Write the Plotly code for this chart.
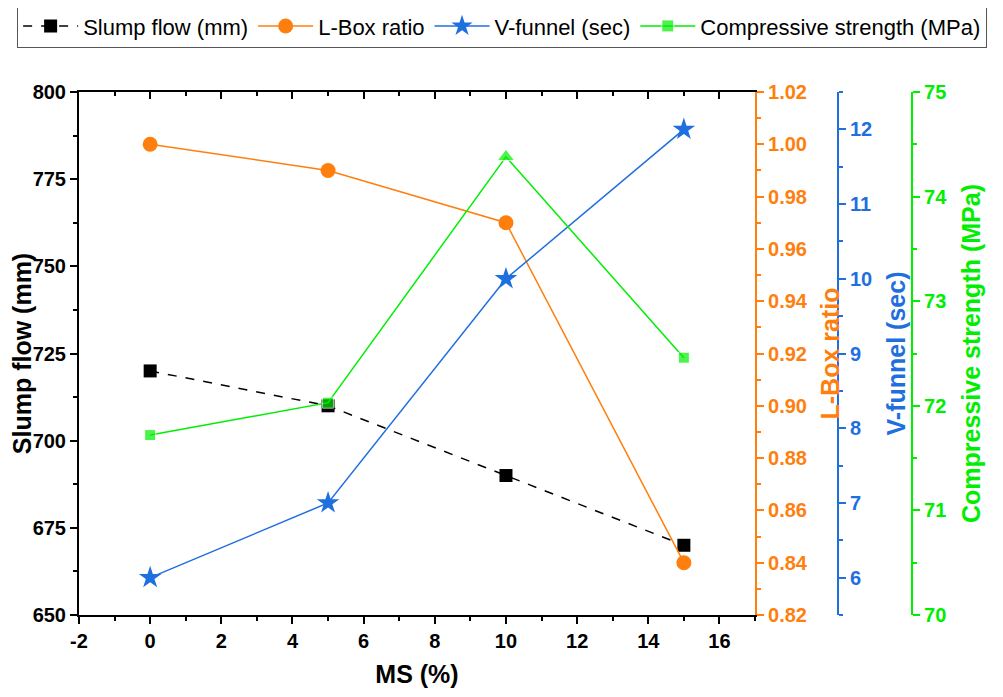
import plotly.graph_objects as go

ms = [0, 5, 10, 15]
slump = [720, 710, 690, 670]
lbox = [1.00, 0.99, 0.97, 0.84]
vfunnel = [6.0, 7.0, 10.0, 12.0]
comp = [71.72, 72.03, 74.38, 72.46]
comp_symbols = ["square", "square", "triangle-up", "square"]
x_tickvals = [-2, 0, 2, 4, 6, 8, 10, 12, 14, 16]
x_ticktext = ["-2", "0", "2", "4", "6", "8", "10", "12", "14", "16"]

BLACK = "#000000"
ORANGE = "#FF7F0E"
BLUE = "#1F6FDF"
GREEN = "#00EE00"
FONT = "Liberation Sans"

fig = go.Figure()
fig.add_trace(go.Scatter(x=ms, y=slump, name="Slump flow (mm)", mode="lines+markers",
                         line=dict(color=BLACK, width=1.5, dash="dash"),
                         marker=dict(symbol="square", size=13, color=BLACK), yaxis="y"))
fig.add_trace(go.Scatter(x=ms, y=lbox, name="L-Box ratio", mode="lines+markers",
                         line=dict(color=ORANGE, width=1.5),
                         marker=dict(symbol="circle", size=15, color=ORANGE), yaxis="y2"))
fig.add_trace(go.Scatter(x=ms, y=vfunnel, name="V-funnel (sec)", mode="lines+markers",
                         line=dict(color=BLUE, width=1.5),
                         marker=dict(symbol="star", size=17, color=BLUE), yaxis="y3"))
fig.add_trace(go.Scatter(x=ms, y=comp, name="Compressive strength (MPa)", mode="lines+markers",
                         line=dict(color=GREEN, width=1.5),
                         marker=dict(symbol=comp_symbols, size=[11, 11, 15, 11], color=GREEN), yaxis="y4"))
# invisible trace to activate the mirrored top axis
fig.add_trace(go.Scatter(x=[ms[0]], y=[slump[0]], xaxis="x2", yaxis="y", mode="markers",
                         marker=dict(opacity=0), showlegend=False, hoverinfo="skip"))

D = 0.7277
tickf = dict(family=FONT, size=20, weight="bold", color=BLACK)
titlef = dict(family=FONT, size=25, weight="bold", color=BLACK)

def yax(color, rng, dtick, mdtick, title, **kw):
    d = dict(range=rng, dtick=dtick, showgrid=False, zeroline=False, automargin=False,
             showline=True, linecolor=color, linewidth=2,
             ticks="outside", ticklen=7, tickwidth=2, tickcolor=color,
             minor=dict(dtick=mdtick, ticks="outside", ticklen=4, tickwidth=2, tickcolor=color),
             tickfont=dict(tickf, color=color),
             title=dict(text=title, font=dict(titlef, color=color)))
    d.update(kw)
    return d

fig.update_layout(
    width=1003, height=697,
    font=dict(family=FONT, color=BLACK),
    margin=dict(l=71, r=3, t=84, b=90, autoexpand=False),
    plot_bgcolor="white", paper_bgcolor="white",
    xaxis=dict(domain=[0, D], range=[-2, 17], tickvals=x_tickvals, ticktext=x_ticktext,
               showgrid=False, zeroline=False, automargin=False,
               showline=True, linecolor=BLACK, linewidth=2,
               ticks="outside", ticklen=7, tickwidth=2, tickcolor=BLACK,
               minor=dict(dtick=1, ticks="outside", ticklen=4, tickwidth=2, tickcolor=BLACK),
               tickfont=tickf, title=dict(text="MS (%)", font=titlef, standoff=14)),
    xaxis2=dict(domain=[0, D], range=[-2, 17], dtick=2, overlaying="x", side="top", anchor="y",
                showgrid=False, zeroline=False, showline=True, linecolor=BLACK, linewidth=2,
                automargin=False,
                ticks="inside", ticklen=7, tickwidth=2, tickcolor=BLACK, showticklabels=False,
                minor=dict(dtick=1, ticks="inside", ticklen=4, tickwidth=2, tickcolor=BLACK)),
    yaxis=yax(BLACK, [650, 800], 25, 12.5, "Slump flow (mm)"),
    yaxis2=yax(ORANGE, [0.82, 1.02], 0.02, 0.01, "L-Box ratio", overlaying="y", side="right",
               anchor="x", tickformat=".2f"),
    yaxis3=yax(BLUE, [5.5, 12.5], 1, 0.5, "V-funnel (sec)", overlaying="y", side="right",
               anchor="free", position=0.817),
    yaxis4=yax(GREEN, [70, 75], 1, 0.5, "Compressive strength (MPa)", overlaying="y", side="right",
               anchor="free", position=0.8967),
    legend=dict(orientation="h", x=-0.0666, xanchor="left", y=1.168, yanchor="top",
                font=dict(family=FONT, size=22, color=BLACK), bordercolor="#555555", borderwidth=1,
                itemwidth=55, bgcolor="white", tracegroupgap=0),
)

fig.write_html("out.html")
